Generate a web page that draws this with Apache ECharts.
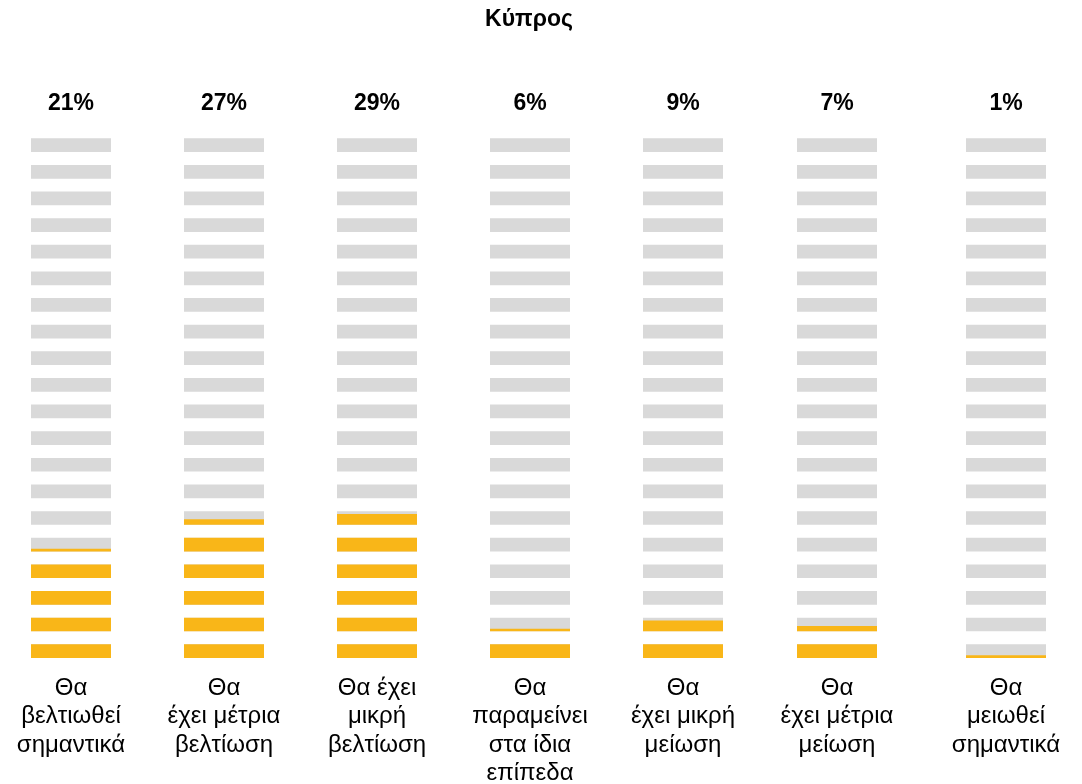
<!DOCTYPE html>
<html>
<head>
<meta charset="utf-8">
<script src="https://cdn.jsdelivr.net/npm/echarts@6/dist/echarts.min.js"></script>
<style>
  html, body { margin: 0; padding: 0; background: #fff; }
  #chart { width: 1082px; height: 784px; }
</style>
</head>
<body>
<div id="chart"></div>
<script>
const titleText = 'Κύπρος'
const categories = [
  'Θα\nβελτιωθεί\nσημαντικά',
  'Θα\nέχει μέτρια\nβελτίωση',
  'Θα έχει\nμικρή\nβελτίωση',
  'Θα\nπαραμείνει\nστα ίδια\nεπίπεδα',
  'Θα\nέχει μικρή\nμείωση',
  'Θα\nέχει μέτρια\nμείωση',
  'Θα\nμειωθεί\nσημαντικά'
]
const values = [21, 27, 29, 6, 9, 7, 1]
const segmentCount = 20
const segmentValue = 5

// column positions (left edge of each block of segments)
const columnLeft = [31, 184, 337, 490, 643, 797, 966]
const columnWidth = 80

const grayColor = '#d9d9d9'
const fillColor = '#f9b618'
const font = 'Liberation Sans, Arial, sans-serif'

const chart = echarts.init(document.getElementById('chart'))

function segmentData(value) {
  const rows = []
  for (let k = 0; k < segmentCount; k++) {
    const start = k * segmentValue
    const frac = Math.max(0, Math.min(1, (value - start) / segmentValue))
    rows.push([0, start, frac])
  }
  return rows
}

function renderSegment(params, api) {
  const center = api.coord([0, api.value(1)])
  const w = api.size([1, 0])[0]
  const slot = api.size([0, segmentValue])[1]
  const h = slot * 0.515
  const frac = api.value(2)
  const x = center[0] - w / 2
  const yBottom = center[1]
  const children = [{
    type: 'rect',
    shape: { x: x, y: yBottom - h, width: w, height: h },
    style: { fill: grayColor }
  }]
  if (frac > 0) {
    children.push({
      type: 'rect',
      shape: { x: x, y: yBottom - h * frac, width: w, height: h * frac },
      style: { fill: fillColor }
    })
  }
  return { type: 'group', children: children }
}

const grids = []
const xAxes = []
const yAxes = []
const series = []

categories.forEach((cat, i) => {
  grids.push({
    left: columnLeft[i],
    width: columnWidth,
    top: 125.4,
    height: 532.6,
    containLabel: false,
    outerBoundsMode: 'none'
  })
  xAxes.push({
    gridIndex: i,
    type: 'category',
    data: [cat],
    axisLine: { show: false },
    axisTick: { show: false },
    axisLabel: {
      interval: 0,
      margin: 16,
      color: '#000',
      fontFamily: font,
      fontSize: 24,
      lineHeight: 28.5
    }
  })
  xAxes.push({
    gridIndex: i,
    type: 'category',
    position: 'top',
    data: [values[i] + '%'],
    axisLine: { show: false },
    axisTick: { show: false },
    axisLabel: {
      interval: 0,
      margin: 10,
      color: '#000',
      fontFamily: font,
      fontSize: 23,
      fontWeight: 'bold'
    }
  })
  yAxes.push({ gridIndex: i, type: 'value', min: 0, max: segmentCount * segmentValue, show: false })
  series.push({
    type: 'custom',
    xAxisIndex: i * 2,
    yAxisIndex: i,
    renderItem: renderSegment,
    data: segmentData(values[i]),
    silent: true
  })
})

chart.setOption({
  animation: false,
  title: {
    text: titleText,
    left: 524,
    textAlign: 'center',
    top: 3,
    textStyle: {
      fontFamily: font,
      fontSize: 23,
      fontWeight: 'bold',
      color: '#000'
    }
  },
  grid: grids,
  xAxis: xAxes,
  yAxis: yAxes,
  series: series
})
</script>
</body>
</html>
